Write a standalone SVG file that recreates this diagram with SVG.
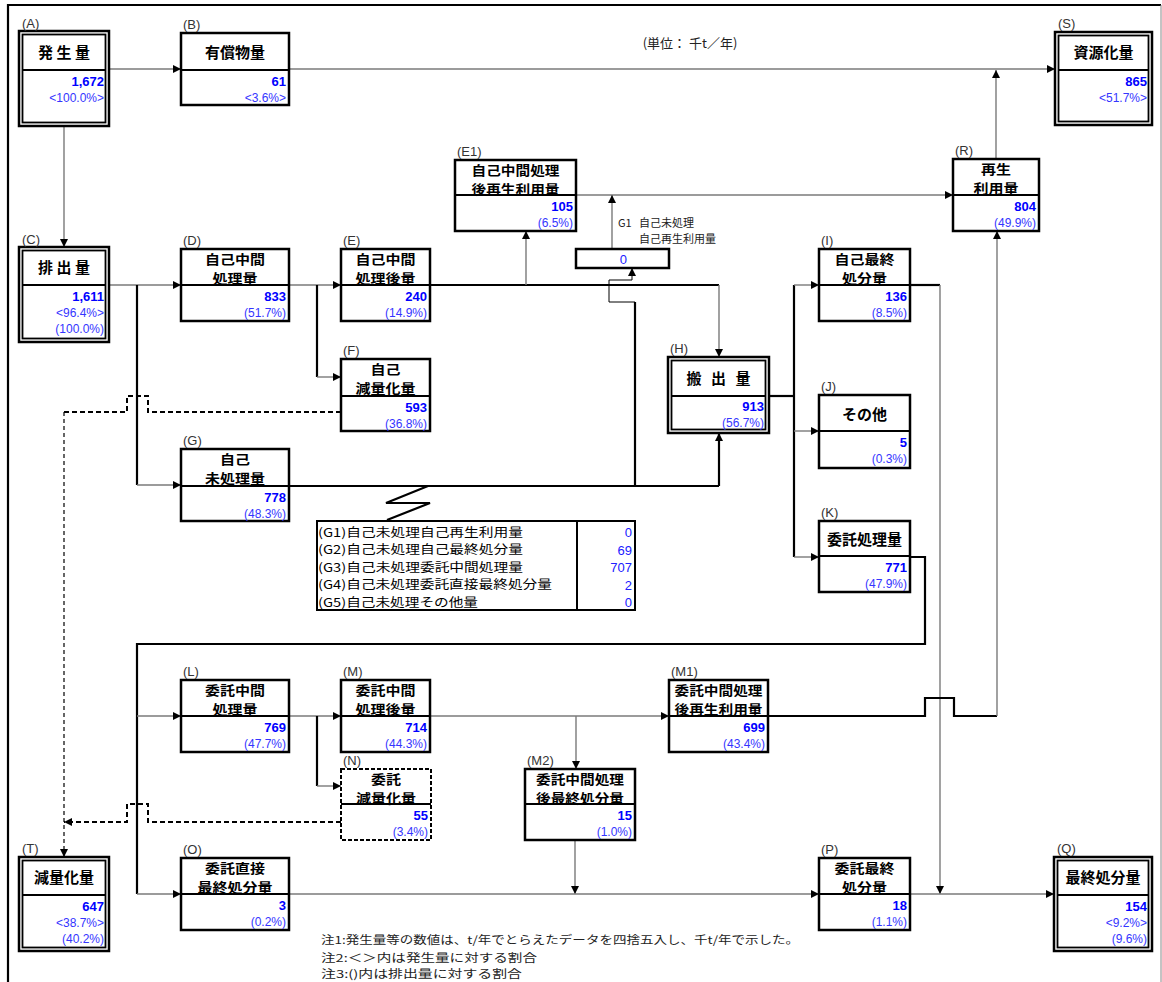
<svg xmlns="http://www.w3.org/2000/svg" width="1162" height="982" viewBox="0 0 1162 982">
<style>
.g{stroke:#7a7a7a;stroke-width:1.4;fill:none}
.k{stroke:#000;stroke-width:2.2;fill:none}
.t{stroke:#000;stroke-width:1;fill:none}
.d{stroke:#000;stroke-width:2;stroke-dasharray:5,3;fill:none}
.d1{stroke:#000;stroke-width:1.2;stroke-dasharray:4,3;fill:none}
.box{fill:#fff;stroke:#000;stroke-width:2.5}
.dbox{fill:#fff;stroke:#000;stroke-width:2;stroke-dasharray:4,2}
.in{fill:none;stroke:#000;stroke-width:1.8}
.dv{stroke:#000;stroke-width:2.2}
.ttl{font-family:"Noto Sans CJK JP","Noto Sans CJK SC",sans-serif;font-weight:bold;font-size:15px;text-anchor:middle;fill:#000}
.t2{font-family:"Noto Sans CJK JP","Noto Sans CJK SC",sans-serif;font-weight:bold;font-size:13px;text-anchor:middle;fill:#000}
.val{font-family:"Liberation Sans",Arial,sans-serif;font-weight:bold;font-size:13px;fill:#0000ff;text-anchor:end}
.pct{font-family:"Liberation Sans",Arial,sans-serif;font-size:12px;fill:#3535ff;text-anchor:end}
.lbl{font-family:"Liberation Sans",Arial,sans-serif;font-size:13px;fill:#333}
.txt{font-family:"Noto Sans CJK JP","Noto Sans CJK SC",sans-serif;font-size:13px;fill:#222}
.nt{font-family:"Noto Sans CJK JP","Noto Sans CJK SC",sans-serif;font-size:11px;fill:#222}
.sm{font-family:"Noto Sans CJK JP","Noto Sans CJK SC",sans-serif;font-size:11px;fill:#222}
.tb{font-family:"Noto Sans CJK JP","Noto Sans CJK SC",sans-serif;font-size:12px;fill:#000}
.tv{font-family:"Liberation Sans",Arial,sans-serif;font-size:13px;fill:#2020ff;text-anchor:end}
</style>
<defs>
<marker id="ah" markerWidth="8" markerHeight="8" refX="8" refY="4" orient="auto" markerUnits="userSpaceOnUse"><path d="M0,0 L8,4 L0,8 z" fill="#000"/></marker>
</defs>
<rect x="0" y="0" width="1162" height="982" fill="#fff"/>
<g id="frame">
<path d="M8,990 V5 H1161" stroke="#000" stroke-width="2.2" fill="none"/>
<path d="M1161,5 V990" stroke="#888" stroke-width="1" fill="none"/>
</g>
<text class="txt" x="690" y="48" text-anchor="middle">(単位： 千t／年)</text>

<g id="connectors">
<path class="g" d="M109,69 H181" marker-end="url(#ah)"/>
<path class="g" d="M289,69 H1055" marker-end="url(#ah)"/>
<path class="g" d="M996,159 V70" marker-end="url(#ah)"/>
<path class="g" d="M64,126 V247" marker-end="url(#ah)"/>
<path class="g" d="M109,285 H181" marker-end="url(#ah)"/>
<path class="k" d="M137,285 V485"/>
<path class="g" d="M137,485 H181" marker-end="url(#ah)"/>
<path class="g" d="M289,285 H341" marker-end="url(#ah)"/>
<path class="k" d="M317,285 V377"/>
<path class="g" d="M317,377 H341" marker-end="url(#ah)"/>
<path class="k" d="M430,285 H719"/>
<path class="g" d="M719,285 V357" marker-end="url(#ah)"/>
<path class="g" d="M526,285 V231" marker-end="url(#ah)"/>
<path class="g" d="M576,195 H953" marker-end="url(#ah)"/>
<path class="g" d="M612,249 V195" marker-end="url(#ah)"/>
<path class="k" d="M289,486 H719"/>
<path class="k" d="M719,486 V433" marker-end="url(#ah)"/>
<path class="k" d="M635,486 V302"/>
<path class="t" d="M635,302 H609 V280 H632 V268" marker-end="url(#ah)"/>
<path class="k" d="M769,396 H794"/>
<path class="k" d="M794,285 V557"/>
<path class="g" d="M794,285 H819" marker-end="url(#ah)"/>
<path class="g" d="M794,431 H819" marker-end="url(#ah)"/>
<path class="g" d="M794,557 H819" marker-end="url(#ah)"/>
<path class="k" d="M910,285 H940"/>
<path class="g" d="M940,285 V894" marker-end="url(#ah)"/>
<path class="k" d="M910,557 H925 V644 H137 V894"/>
<path class="g" d="M137,716 H181" marker-end="url(#ah)"/>
<path class="g" d="M137,894 H181" marker-end="url(#ah)"/>
<path class="g" d="M289,716 H341" marker-end="url(#ah)"/>
<path class="k" d="M317,716 V786"/>
<path class="g" d="M317,786 H341" marker-end="url(#ah)"/>
<path class="g" d="M430,716 H669" marker-end="url(#ah)"/>
<path class="g" d="M576,716 V769" marker-end="url(#ah)"/>
<path class="k" d="M768,716 H925 V698 H954 V716 H997"/>
<path class="g" d="M997,716 V231" marker-end="url(#ah)"/>
<path class="g" d="M575,840 V894" marker-end="url(#ah)"/>
<path class="g" d="M289,894 H819" marker-end="url(#ah)"/>
<path class="g" d="M910,894 H1054" marker-end="url(#ah)"/>
<path class="d" d="M341,412 H148 V396 H127 V412 H64"/>
<path class="d1" d="M64,412 V857" marker-end="url(#ah)"/>
<path class="d" d="M341,822 H148 V804 H127 V822 H64" marker-end="url(#ah)"/>
<path class="k" d="M428,486 L386,503 H430 L387,520"/>
</g>

<g id="A">
<rect class="box" x="19" y="31" width="90" height="95"/>
<rect class="in" x="22.5" y="34.5" width="83" height="88"/>
<line class="dv" x1="22.5" y1="70" x2="105.5" y2="70"/>
<text class="lbl" x="22" y="28">(A)</text>
<text class="ttl" x="64" y="58">発 生 量</text>
<text class="val" x="104" y="86">1,672</text>
<text class="pct" x="104" y="102">&lt;100.0%&gt;</text>
</g>
<g id="B">
<rect class="box" x="181" y="33" width="108" height="72"/>
<line class="dv" x1="181" y1="70" x2="289" y2="70"/>
<text class="lbl" x="183" y="29">(B)</text>
<text class="ttl" x="235" y="58">有償物量</text>
<text class="val" x="286" y="86">61</text>
<text class="pct" x="286" y="102">&lt;3.6%&gt;</text>
</g>
<g id="S">
<rect class="box" x="1055" y="32" width="97" height="93"/>
<rect class="in" x="1058.5" y="35.5" width="90" height="86"/>
<line class="dv" x1="1058.5" y1="70" x2="1148.5" y2="70"/>
<text class="lbl" x="1058" y="28">(S)</text>
<text class="ttl" x="1103.5" y="58">資源化量</text>
<text class="val" x="1147" y="86">865</text>
<text class="pct" x="1147" y="102">&lt;51.7%&gt;</text>
</g>
<g id="C">
<rect class="box" x="19" y="247" width="90" height="95"/>
<rect class="in" x="22.5" y="250.5" width="83" height="88"/>
<line class="dv" x1="22.5" y1="285" x2="105.5" y2="285"/>
<text class="lbl" x="22" y="244">(C)</text>
<text class="ttl" x="64" y="273">排 出 量</text>
<text class="val" x="104" y="301">1,611</text>
<text class="pct" x="104" y="317">&lt;96.4%&gt;</text>
<text class="pct" x="104" y="333">(100.0%)</text>
</g>
<g id="D">
<rect class="box" x="181" y="249" width="108" height="72"/>
<line class="dv" x1="181" y1="285" x2="289" y2="285"/>
<text class="lbl" x="183" y="245">(D)</text>
<text class="t2" x="235" y="264" textLength="60" lengthAdjust="spacingAndGlyphs">自己中間</text>
<text class="t2" x="235" y="283" textLength="45" lengthAdjust="spacingAndGlyphs">処理量</text>
<text class="val" x="286" y="301">833</text>
<text class="pct" x="286" y="317">(51.7%)</text>
</g>
<g id="E">
<rect class="box" x="341" y="249" width="89" height="72"/>
<line class="dv" x1="341" y1="285" x2="430" y2="285"/>
<text class="lbl" x="343" y="245">(E)</text>
<text class="t2" x="385.5" y="264" textLength="60" lengthAdjust="spacingAndGlyphs">自己中間</text>
<text class="t2" x="385.5" y="283" textLength="60" lengthAdjust="spacingAndGlyphs">処理後量</text>
<text class="val" x="427" y="301">240</text>
<text class="pct" x="427" y="317">(14.9%)</text>
</g>
<g id="E1">
<rect class="box" x="455" y="160" width="121" height="71"/>
<line class="dv" x1="455" y1="195" x2="576" y2="195"/>
<text class="lbl" x="457" y="156">(E1)</text>
<text class="t2" x="515.5" y="175" textLength="88" lengthAdjust="spacingAndGlyphs">自己中間処理</text>
<text class="t2" x="515.5" y="194" textLength="88" lengthAdjust="spacingAndGlyphs">後再生利用量</text>
<text class="val" x="573" y="211">105</text>
<text class="pct" x="573" y="227">(6.5%)</text>
</g>
<g id="G1">
<rect class="box" x="576" y="249" width="93" height="19" stroke-width="2"/>
<text class="tv" x="627" y="264">0</text>
<text class="sm" x="618" y="227">G1<tspan x="639">自己未処理</tspan></text>
<text class="sm" x="639" y="243">自己再生利用量</text>
</g>
<g id="R">
<rect class="box" x="953" y="159" width="86" height="72"/>
<line class="dv" x1="953" y1="195" x2="1039" y2="195"/>
<text class="lbl" x="955" y="155">(R)</text>
<text class="t2" x="996" y="174" textLength="30" lengthAdjust="spacingAndGlyphs">再生</text>
<text class="t2" x="996" y="193" textLength="45" lengthAdjust="spacingAndGlyphs">利用量</text>
<text class="val" x="1036" y="211">804</text>
<text class="pct" x="1036" y="227">(49.9%)</text>
</g>
<g id="F">
<rect class="box" x="341" y="359" width="89" height="72"/>
<line class="dv" x1="341" y1="396" x2="430" y2="396"/>
<text class="lbl" x="343" y="355">(F)</text>
<text class="t2" x="385.5" y="374" textLength="30" lengthAdjust="spacingAndGlyphs">自己</text>
<text class="t2" x="385.5" y="393" textLength="60" lengthAdjust="spacingAndGlyphs">減量化量</text>
<text class="val" x="427" y="412">593</text>
<text class="pct" x="427" y="428">(36.8%)</text>
</g>
<g id="G">
<rect class="box" x="181" y="449" width="108" height="72"/>
<line class="dv" x1="181" y1="486" x2="289" y2="486"/>
<text class="lbl" x="183" y="445">(G)</text>
<text class="t2" x="235" y="464" textLength="30" lengthAdjust="spacingAndGlyphs">自己</text>
<text class="t2" x="235" y="483" textLength="60" lengthAdjust="spacingAndGlyphs">未処理量</text>
<text class="val" x="286" y="502">778</text>
<text class="pct" x="286" y="518">(48.3%)</text>
</g>
<g id="H">
<rect class="box" x="668" y="357" width="101" height="76"/>
<rect class="in" x="671.5" y="360.5" width="94" height="69"/>
<line class="dv" x1="671.5" y1="396" x2="765.5" y2="396"/>
<text class="lbl" x="670" y="353">(H)</text>
<text class="ttl" x="720" y="383.5" letter-spacing="3">搬 出 量</text>
<text class="val" x="764" y="411">913</text>
<text class="pct" x="764" y="427">(56.7%)</text>
</g>
<g id="I">
<rect class="box" x="819" y="249" width="91" height="72"/>
<line class="dv" x1="819" y1="285" x2="910" y2="285"/>
<text class="lbl" x="821" y="245">(I)</text>
<text class="t2" x="864.5" y="264" textLength="60" lengthAdjust="spacingAndGlyphs">自己最終</text>
<text class="t2" x="864.5" y="283" textLength="45" lengthAdjust="spacingAndGlyphs">処分量</text>
<text class="val" x="907" y="301">136</text>
<text class="pct" x="907" y="317">(8.5%)</text>
</g>
<g id="J">
<rect class="box" x="819" y="395" width="91" height="73"/>
<line class="dv" x1="819" y1="431" x2="910" y2="431"/>
<text class="lbl" x="821" y="391">(J)</text>
<text class="ttl" x="864.5" y="420">その他</text>
<text class="val" x="907" y="447">5</text>
<text class="pct" x="907" y="463">(0.3%)</text>
</g>
<g id="K">
<rect class="box" x="819" y="521" width="91" height="71"/>
<line class="dv" x1="819" y1="556" x2="910" y2="556"/>
<text class="lbl" x="821" y="517">(K)</text>
<text class="ttl" x="864.5" y="545">委託処理量</text>
<text class="val" x="907" y="572">771</text>
<text class="pct" x="907" y="588">(47.9%)</text>
</g>
<g id="G-table">
<rect x="317" y="521" width="318" height="89" fill="#fff" stroke="#000" stroke-width="2"/>
<line x1="577" y1="521" x2="577" y2="610" stroke="#000" stroke-width="2"/>
<text class="tb" x="318" y="536.5" textLength="205" lengthAdjust="spacingAndGlyphs">(G1)自己未処理自己再生利用量</text>
<text class="tb" x="318" y="554" textLength="205" lengthAdjust="spacingAndGlyphs">(G2)自己未処理自己最終処分量</text>
<text class="tb" x="318" y="571.5" textLength="205" lengthAdjust="spacingAndGlyphs">(G3)自己未処理委託中間処理量</text>
<text class="tb" x="318" y="589" textLength="234" lengthAdjust="spacingAndGlyphs">(G4)自己未処理委託直接最終処分量</text>
<text class="tb" x="318" y="606.5" textLength="160" lengthAdjust="spacingAndGlyphs">(G5)自己未処理その他量</text>
<text class="tv" x="632" y="537">0</text>
<text class="tv" x="632" y="554.5">69</text>
<text class="tv" x="632" y="572">707</text>
<text class="tv" x="632" y="589.5">2</text>
<text class="tv" x="632" y="607">0</text>
</g>
<g id="L">
<rect class="box" x="181" y="680" width="108" height="72"/>
<line class="dv" x1="181" y1="716" x2="289" y2="716"/>
<text class="lbl" x="183" y="676">(L)</text>
<text class="t2" x="235" y="695" textLength="60" lengthAdjust="spacingAndGlyphs">委託中間</text>
<text class="t2" x="235" y="714" textLength="45" lengthAdjust="spacingAndGlyphs">処理量</text>
<text class="val" x="286" y="732">769</text>
<text class="pct" x="286" y="748">(47.7%)</text>
</g>
<g id="M">
<rect class="box" x="341" y="680" width="89" height="72"/>
<line class="dv" x1="341" y1="716" x2="430" y2="716"/>
<text class="lbl" x="343" y="676">(M)</text>
<text class="t2" x="385.5" y="695" textLength="60" lengthAdjust="spacingAndGlyphs">委託中間</text>
<text class="t2" x="385.5" y="714" textLength="60" lengthAdjust="spacingAndGlyphs">処理後量</text>
<text class="val" x="427" y="732">714</text>
<text class="pct" x="427" y="748">(44.3%)</text>
</g>
<g id="M1">
<rect class="box" x="669" y="680" width="99" height="72"/>
<line class="dv" x1="669" y1="716" x2="768" y2="716"/>
<text class="lbl" x="671" y="676">(M1)</text>
<text class="t2" x="718.5" y="695" textLength="88" lengthAdjust="spacingAndGlyphs">委託中間処理</text>
<text class="t2" x="718.5" y="714" textLength="88" lengthAdjust="spacingAndGlyphs">後再生利用量</text>
<text class="val" x="765" y="732">699</text>
<text class="pct" x="765" y="748">(43.4%)</text>
</g>
<g id="N">
<rect class="dbox" x="341" y="769" width="90" height="71"/>
<line x1="341" y1="804" x2="431" y2="804" stroke="#000" stroke-width="2.2"/>
<text class="lbl" x="343" y="765">(N)</text>
<text class="t2" x="386" y="784" textLength="30" lengthAdjust="spacingAndGlyphs">委託</text>
<text class="t2" x="386" y="803" textLength="60" lengthAdjust="spacingAndGlyphs">減量化量</text>
<text class="val" x="428" y="820">55</text>
<text class="pct" x="428" y="836">(3.4%)</text>
</g>
<g id="M2">
<rect class="box" x="525" y="769" width="110" height="71"/>
<line class="dv" x1="525" y1="804" x2="635" y2="804"/>
<text class="lbl" x="527" y="765">(M2)</text>
<text class="t2" x="580" y="784" textLength="88" lengthAdjust="spacingAndGlyphs">委託中間処理</text>
<text class="t2" x="580" y="803" textLength="88" lengthAdjust="spacingAndGlyphs">後最終処分量</text>
<text class="val" x="632" y="820">15</text>
<text class="pct" x="632" y="836">(1.0%)</text>
</g>
<g id="O">
<rect class="box" x="181" y="858" width="108" height="72"/>
<line class="dv" x1="181" y1="894" x2="289" y2="894"/>
<text class="lbl" x="183" y="854">(O)</text>
<text class="t2" x="235" y="873" textLength="60" lengthAdjust="spacingAndGlyphs">委託直接</text>
<text class="t2" x="235" y="892" textLength="75" lengthAdjust="spacingAndGlyphs">最終処分量</text>
<text class="val" x="286" y="910">3</text>
<text class="pct" x="286" y="926">(0.2%)</text>
</g>
<g id="P">
<rect class="box" x="819" y="858" width="91" height="72"/>
<line class="dv" x1="819" y1="894" x2="910" y2="894"/>
<text class="lbl" x="821" y="854">(P)</text>
<text class="t2" x="864.5" y="873" textLength="60" lengthAdjust="spacingAndGlyphs">委託最終</text>
<text class="t2" x="864.5" y="892" textLength="45" lengthAdjust="spacingAndGlyphs">処分量</text>
<text class="val" x="907" y="910">18</text>
<text class="pct" x="907" y="926">(1.1%)</text>
</g>
<g id="T">
<rect class="box" x="19" y="857" width="90" height="94"/>
<rect class="in" x="22.5" y="860.5" width="83" height="87"/>
<line class="dv" x1="22.5" y1="895" x2="105.5" y2="895"/>
<text class="lbl" x="22" y="853">(T)</text>
<text class="ttl" x="64" y="883">減量化量</text>
<text class="val" x="104" y="911">647</text>
<text class="pct" x="104" y="927">&lt;38.7%&gt;</text>
<text class="pct" x="104" y="943">(40.2%)</text>
</g>
<g id="Q">
<rect class="box" x="1054" y="857" width="98" height="94"/>
<rect class="in" x="1057.5" y="860.5" width="91" height="87"/>
<line class="dv" x1="1057.5" y1="895" x2="1148.5" y2="895"/>
<text class="lbl" x="1057" y="853">(Q)</text>
<text class="ttl" x="1103" y="883">最終処分量</text>
<text class="val" x="1147" y="911">154</text>
<text class="pct" x="1147" y="927">&lt;9.2%&gt;</text>
<text class="pct" x="1147" y="943">(9.6%)</text>
</g>
<g id="notes">
<text class="nt" x="321" y="944" textLength="478" lengthAdjust="spacingAndGlyphs">注1:発生量等の数値は、t/年でとらえたデータを四捨五入し、千t/年で示した。</text>
<text class="nt" x="321" y="962" textLength="216" lengthAdjust="spacingAndGlyphs">注2:＜＞内は発生量に対する割合</text>
<text class="nt" x="321" y="978" textLength="201" lengthAdjust="spacingAndGlyphs">注3:()内は排出量に対する割合</text>
</g>
</svg>
